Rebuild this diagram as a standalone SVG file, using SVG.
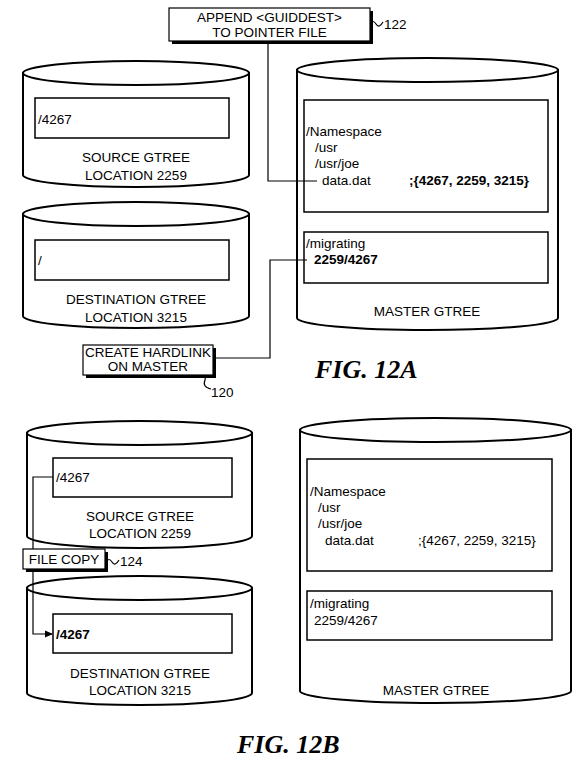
<svg xmlns="http://www.w3.org/2000/svg" width="576" height="761" viewBox="0 0 576 761">
<style>
.cyl{fill:#fff;stroke:#000;stroke-width:2}
.in{fill:#fff;stroke:#000;stroke-width:1.5}
.box{fill:#fff;stroke:#000;stroke-width:1.2}
.sh{fill:#000}
.t{font-family:"Liberation Sans",Arial,sans-serif;font-size:13.5px;fill:#000}
.c{text-anchor:middle}
.b{font-weight:bold}
.fig{font-family:"Liberation Serif","Times New Roman",serif;font-size:26px;font-weight:bold;font-style:italic;fill:#000}
.ln{fill:none;stroke:#000;stroke-width:1.2}
</style>
<defs>
<marker id="ah" markerWidth="8" markerHeight="8" refX="7" refY="4" orient="auto" markerUnits="userSpaceOnUse">
<path d="M0,0.5 L8,4 L0,7.5 Z" fill="#000"/>
</marker>
</defs>
<rect width="576" height="761" fill="#fff"/>

<g id="fig12a-source">
<path class="cyl" d="M23,73 V175 A113,12 0 0 0 249,175 V73 Z"/>
<ellipse class="cyl" cx="136" cy="73" rx="113" ry="12"/>
<rect class="in" x="35" y="98" width="194" height="40"/>
<text class="t" x="38" y="124">/4267</text>
<text class="t c" x="136" y="162">SOURCE GTREE</text>
<text class="t c" x="136" y="180">LOCATION 2259</text>
</g>

<g id="fig12a-destination">
<path class="cyl" d="M23,214 V316 A113,12 0 0 0 249,316 V214 Z"/>
<ellipse class="cyl" cx="136" cy="214" rx="113" ry="12"/>
<rect class="in" x="35" y="240" width="194" height="40"/>
<text class="t" x="38" y="265">/</text>
<text class="t c" x="136" y="304">DESTINATION GTREE</text>
<text class="t c" x="136" y="322">LOCATION 3215</text>
</g>

<g id="fig12a-master">
<path class="cyl" d="M297,70 V318 A130.5,12 0 0 0 558,318 V70 Z"/>
<ellipse class="cyl" cx="427.5" cy="70" rx="130.5" ry="12"/>
<rect class="in" x="304" y="100" width="244" height="112"/>
<text class="t" x="306" y="136">/Namespace</text>
<text class="t" x="315" y="152">/usr</text>
<text class="t" x="315" y="168">/usr/joe</text>
<text class="t" x="322" y="185">data.dat</text>
<text class="t b" x="409" y="185">;{4267, 2259, 3215}</text>
<rect class="in" x="304" y="232" width="244" height="51"/>
<text class="t" x="306" y="248">/migrating</text>
<text class="t b" x="314" y="264">2259/4267</text>
<text class="t c" x="427" y="316">MASTER GTREE</text>
</g>

<g id="fig12b-source">
<path class="cyl" d="M27,433 V536 A112.5,12 0 0 0 252,536 V433 Z"/>
<ellipse class="cyl" cx="139.5" cy="433" rx="112.5" ry="12"/>
<rect class="in" x="53" y="458" width="179" height="39"/>
<text class="t" x="56" y="482">/4267</text>
<text class="t c" x="140" y="521">SOURCE GTREE</text>
<text class="t c" x="140" y="538">LOCATION 2259</text>
</g>

<g id="fig12b-destination">
<path class="cyl" d="M27,588 V693 A112.5,12 0 0 0 252,693 V588 Z"/>
<ellipse class="cyl" cx="139.5" cy="588" rx="112.5" ry="12"/>
<rect class="in" x="53" y="614" width="179" height="39"/>
<text class="t b" x="56" y="639">/4267</text>
<text class="t c" x="140" y="678">DESTINATION GTREE</text>
<text class="t c" x="140" y="695">LOCATION 3215</text>
</g>

<g id="fig12b-master">
<path class="cyl" d="M300,430 V691 A135.5,12 0 0 0 571,691 V430 Z"/>
<ellipse class="cyl" cx="435.5" cy="430" rx="135.5" ry="12"/>
<rect class="in" x="307" y="459" width="245" height="112"/>
<text class="t" x="310" y="496">/Namespace</text>
<text class="t" x="318" y="512">/usr</text>
<text class="t" x="318" y="528">/usr/joe</text>
<text class="t" x="325" y="545">data.dat</text>
<text class="t" x="418" y="545">;{4267, 2259, 3215}</text>
<rect class="in" x="307" y="591" width="245" height="49"/>
<text class="t" x="310" y="608">/migrating</text>
<text class="t" x="314" y="625">2259/4267</text>
<text class="t c" x="436" y="695">MASTER GTREE</text>
</g>

<g id="connectors">
<path class="ln" d="M268,43 V181 H317"/>
<path class="ln" d="M213,358 H270 V260 H307"/>
<path class="ln" d="M53,477 H33 V634 H52" marker-end="url(#ah)"/>
<path class="ln" d="M370,24 q3,-5 6,0 q3,5 7,-2"/>
<path class="ln" d="M201,372 q6,2 4,8 q-3,7 6,9"/>
<path class="ln" d="M106,562 q3,-5 6,0 q3,5 7,-2"/>
</g>

<g id="step122">
<rect class="sh" x="172" y="11" width="201" height="33"/>
<rect class="box" x="169" y="8" width="201" height="33"/>
<text class="t c" x="269.5" y="22">APPEND &lt;GUIDDEST&gt;</text>
<text class="t c" x="269.5" y="37">TO POINTER FILE</text>
<text class="t" x="384" y="29">122</text>
</g>

<g id="step120">
<rect class="sh" x="86" y="348" width="130" height="30"/>
<rect class="box" x="83" y="345" width="130" height="30"/>
<text class="t c" x="148" y="357">CREATE HARDLINK</text>
<text class="t c" x="148" y="371">ON MASTER</text>
<text class="t" x="211" y="397">120</text>
</g>

<text class="fig" x="315" y="378">FIG. 12A</text>

<g id="step124">
<rect class="sh" x="26" y="552" width="82" height="20"/>
<rect class="box" x="23" y="549" width="82" height="20"/>
<text class="t c" x="64" y="564">FILE COPY</text>
<text class="t" x="120" y="566">124</text>
</g>

<text class="fig" x="237" y="753">FIG. 12B</text>
</svg>
